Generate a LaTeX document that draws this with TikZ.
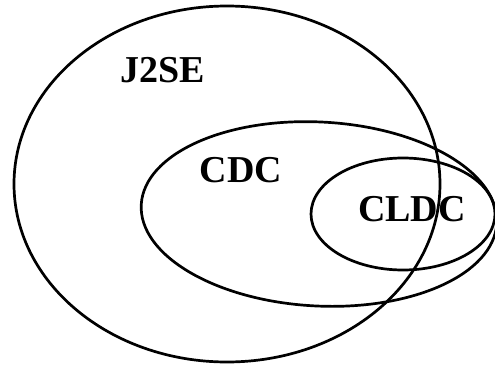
\documentclass[tikz,border=0pt]{standalone}
\usepackage{fontspec}
\setmainfont{Liberation Serif}
\usetikzlibrary{shapes.geometric}
\begin{document}
\begin{tikzpicture}[x=1pt,y=-1pt,
  setring/.style={draw=black, line width=2.7pt, ellipse, inner sep=0pt},
  setname/.style={font=\fontsize{38}{40}\selectfont\bfseries, inner sep=0pt}]
  \useasboundingbox (0,0) rectangle (495,367);
  \clip (0,0) rectangle (495,367);
  % nested sets
  \node[setring, minimum width=426pt, minimum height=356pt] (j2se) at (227,184) {};
  \node[setring, minimum width=356pt, minimum height=184pt, rotate=-3] (cdc) at (319,214) {};
  \node[setring, minimum width=184pt, minimum height=112pt] (cldc) at (403,214) {};
  % set names
  \node[setname] (j2selabel) at (163,70) {J2SE};
  \node[setname] (cdclabel) at (241,170) {CDC};
  \node[setname] (cldclabel) at (412,209) {CLDC};
\end{tikzpicture}
\end{document}
